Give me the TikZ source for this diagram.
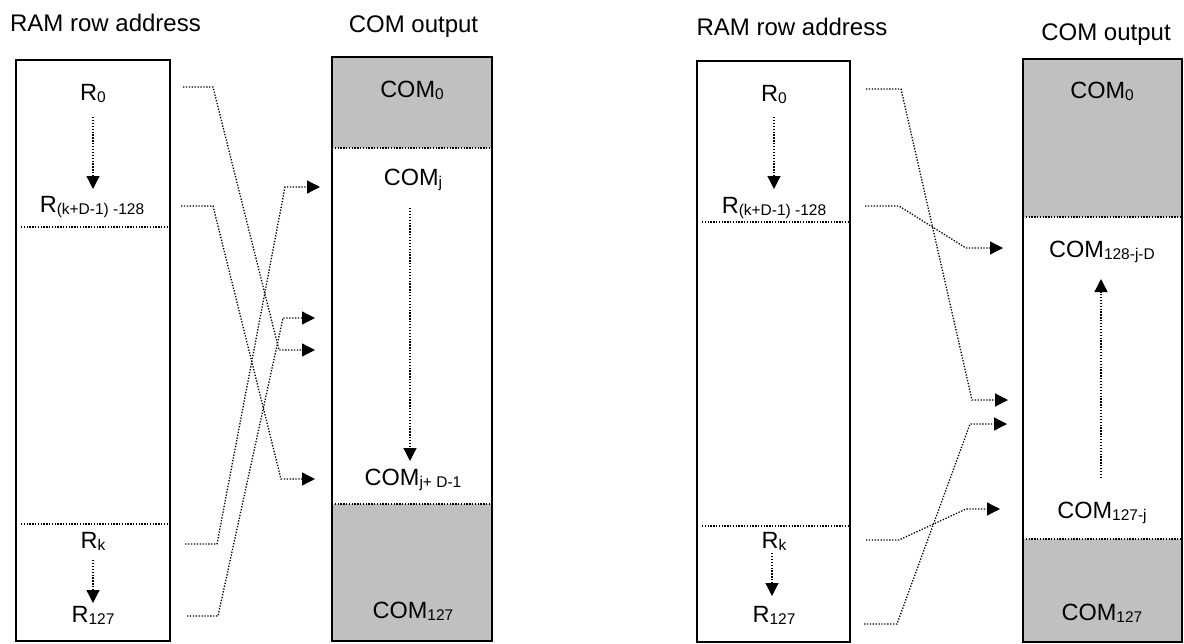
\documentclass[tikz,border=0pt]{standalone}
\usepackage{fontspec}
\setmainfont{Liberation Sans}
\usetikzlibrary{arrows.meta}
\definecolor{silvergray}{HTML}{C0C0C0}
\newcommand{\lsub}[1]{\raisebox{-2.5pt}{\fontsize{15.5}{16}\selectfont #1}}
\begin{document}
\begin{tikzpicture}[x=1pt,y=-1pt,
  lbl/.style={anchor=base,inner sep=0pt,font=\fontsize{23.5}{27}\selectfont},
  ttl/.style={anchor=base,inner sep=0pt,font=\fontsize{24}{28}\selectfont},
  box/.style={draw=black,line width=1.4pt},
  sepline/.style={line width=1.3pt,dash pattern=on 1.3pt off 1.5pt},
  conn/.style={line width=1.3pt,dash pattern=on 1.3pt off 1.6pt,-{Triangle[length=13pt,width=13pt]}},
  flow/.style={line width=1.3pt,dash pattern=on 1.3pt off 1.6pt,-{Triangle[length=13pt,width=13pt]}}
]
\useasboundingbox (0,0) rectangle (1184,643);

% ================= LEFT DIAGRAM =================
\node[ttl] (tA) at (105.5,31) {RAM row address};
\node[ttl] (tB) at (413.5,32) {COM output};

% COM box with gray regions
\fill[silvergray] (332,57) rectangle (492,148);
\fill[silvergray] (332,504) rectangle (492,641);
\draw[sepline] (332,148) -- (492,148);
\draw[sepline] (332,504) -- (492,504);
\draw[box] (332,57) rectangle (492,641);

% RAM box
\draw[box] (16,60) rectangle (170,641);
\draw[sepline] (21,227) -- (170,227);
\draw[sepline] (21,524) -- (170,524);

% labels
\node[lbl] (r0) at (93,100) {R\lsub{0}};
\node[lbl] (rkd) at (92,212) {R\lsub{(k+D-1) -128}};
\node[lbl] (rk) at (93,548) {R\lsub{k}};
\node[lbl] (r127) at (93,622) {R\lsub{127}};
\node[lbl] (c0) at (412,97) {COM\lsub{0}};
\node[lbl] (cj) at (413,185) {COM\lsub{j}};
\node[lbl] (cjd) at (413,485) {COM\lsub{j+ D-1}};
\node[lbl] (c127) at (413,618) {COM\lsub{127}};

% internal arrows
\coordinate (a1s) at (93,117); \coordinate (a1e) at (93,189);
\coordinate (a2s) at (93,560); \coordinate (a2e) at (93,603);
\coordinate (a3s) at (410,208); \coordinate (a3e) at (410,461);
\draw[flow] (a1s) -- (a1e);
\draw[flow] (a2s) -- (a2e);
\draw[flow] (a3s) -- (a3e);

% connectors
\coordinate (s1) at (183,87);  \coordinate (b1) at (213,87);  \coordinate (k1) at (279,350); \coordinate (e1) at (315,350);
\coordinate (s2) at (181,206); \coordinate (b2) at (213,206); \coordinate (k2) at (281,479); \coordinate (e2) at (315,479);
\coordinate (s3) at (185,544); \coordinate (b3) at (217,544); \coordinate (k3) at (285,187); \coordinate (e3) at (320,187);
\coordinate (s4) at (187,616); \coordinate (b4) at (218,616); \coordinate (k4) at (283,318); \coordinate (e4) at (315,318);
\draw[conn] (s1) -- (b1) -- (k1) -- (e1);
\draw[conn] (s2) -- (b2) -- (k2) -- (e2);
\draw[conn] (s3) -- (b3) -- (k3) -- (e3);
\draw[conn] (s4) -- (b4) -- (k4) -- (e4);

% ================= RIGHT DIAGRAM =================
\node[ttl] (tC) at (792,35) {RAM row address};
\node[ttl] (tD) at (1106,40) {COM output};

\fill[silvergray] (1023,59) rectangle (1182,217);
\fill[silvergray] (1023,539) rectangle (1182,642);
\draw[sepline] (1023,217) -- (1182,217);
\draw[sepline] (1023,539) -- (1182,539);
\draw[box] (1023,59) rectangle (1182,642);

\draw[box] (697,61) rectangle (850,642);
\draw[sepline] (702,222) -- (850,222);
\draw[sepline] (702,526) -- (850,526);

\node[lbl] (q0) at (774,101) {R\lsub{0}};
\node[lbl] (qkd) at (774,213) {R\lsub{(k+D-1) -128}};
\node[lbl] (qk) at (774,548) {R\lsub{k}};
\node[lbl] (q127) at (774,622) {R\lsub{127}};
\node[lbl] (d0) at (1102,98) {COM\lsub{0}};
\node[lbl] (dj) at (1102,257) {COM\lsub{128-j-D}};
\node[lbl] (djd) at (1102,518) {COM\lsub{127-j}};
\node[lbl] (d127) at (1102,620) {COM\lsub{127}};

\coordinate (f1s) at (774,117); \coordinate (f1e) at (774,189);
\coordinate (f2s) at (772,553); \coordinate (f2e) at (772,596);
\coordinate (f3s) at (1101,478); \coordinate (f3e) at (1101,279);
\draw[flow] (f1s) -- (f1e);
\draw[flow] (f2s) -- (f2e);
\draw[flow] (f3s) -- (f3e);

\coordinate (t1) at (866,89);  \coordinate (u1) at (901,89);  \coordinate (m1) at (972,400); \coordinate (n1) at (1008,400);
\coordinate (t2) at (865,206); \coordinate (u2) at (899,206); \coordinate (m2) at (966,248); \coordinate (n2) at (1003,248);
\coordinate (t3) at (866,540); \coordinate (u3) at (899,540); \coordinate (m3) at (966,509); \coordinate (n3) at (1000,509);
\coordinate (t4) at (864,624); \coordinate (u4) at (897,624); \coordinate (m4) at (970,424); \coordinate (n4) at (1007,424);
\draw[conn] (t1) -- (u1) -- (m1) -- (n1);
\draw[conn] (t2) -- (u2) -- (m2) -- (n2);
\draw[conn] (t3) -- (u3) -- (m3) -- (n3);
\draw[conn] (t4) -- (u4) -- (m4) -- (n4);
\end{tikzpicture}
\end{document}
